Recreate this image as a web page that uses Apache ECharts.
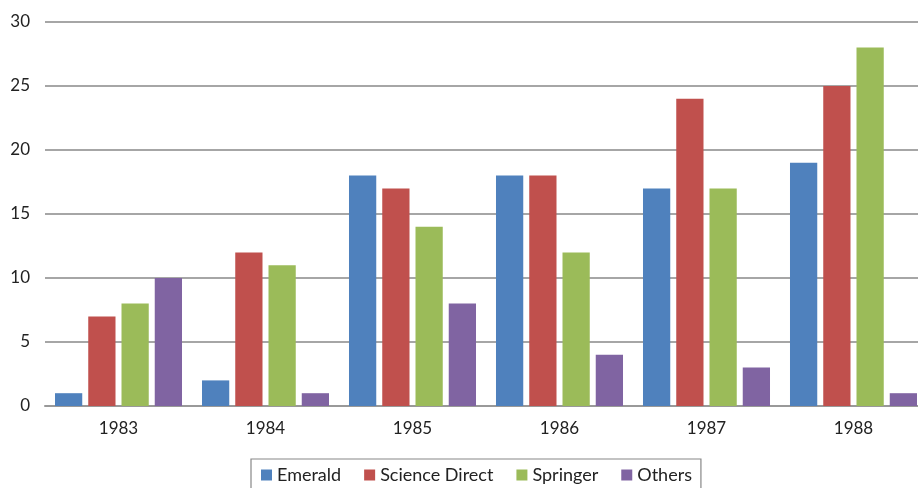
<!DOCTYPE html>
<html><head><meta charset="utf-8">
<script src="https://cdn.jsdelivr.net/npm/echarts@6/dist/echarts.min.js"></script>
<style>html,body{margin:0;padding:0;background:#fff;overflow:hidden}#c{width:918px;height:488px}</style>
</head><body><div id="c"></div>
<script>
const categories = ['1983','1984','1985','1986','1987','1988'];
const emerald = [1, 2, 18, 18, 17, 19];
const scienceDirect = [7, 12, 17, 18, 24, 25];
const springer = [8, 11, 14, 12, 17, 28];
const others = [10, 1, 8, 4, 3, 1];
const seriesNames = ['Emerald','Science Direct','Springer','Others'];
const colors = ['#4F81BD','#C0504D','#9BBB59','#8064A2'];
const values = [emerald, scienceDirect, springer, others];

const chart = echarts.init(document.getElementById('c'));
const font = 'Lato, "Open Sans", sans-serif';
chart.setOption({
  animation: false,
  textStyle: {fontFamily: font},
  grid: {left: 45, width: 882, top: 22, height: 384, outerBoundsMode: 'none', containLabel: false},
  legend: {
    bottom: -4, left: 251,
    padding: [7, 9, 8, 10],
    borderColor: '#888', borderWidth: 1.2,
    itemWidth: 11, itemHeight: 11, itemGap: 23,
    icon: 'rect',
    textStyle: {fontSize: 18, color: '#222', fontFamily: font},
    data: seriesNames
  },
  xAxis: {
    type: 'category', data: categories,
    axisLine: {lineStyle: {color: '#999', width: 2}},
    axisTick: {show: false},
    axisLabel: {fontSize: 17, color: '#222', margin: 14, fontFamily: font}
  },
  yAxis: {
    type: 'value', min: 0, max: 30, interval: 5,
    axisLine: {show: false}, axisTick: {show: false},
    splitLine: {lineStyle: {color: '#a6a6a6', width: 2}},
    axisLabel: {fontSize: 17, color: '#222', margin: 15, fontFamily: font}
  },
  series: seriesNames.map((n, i) => ({
    name: n, type: 'bar', data: values[i],
    barGap: '22%', barCategoryGap: '13.6%',
    itemStyle: {color: colors[i]}
  }))
});
</script></body></html>
